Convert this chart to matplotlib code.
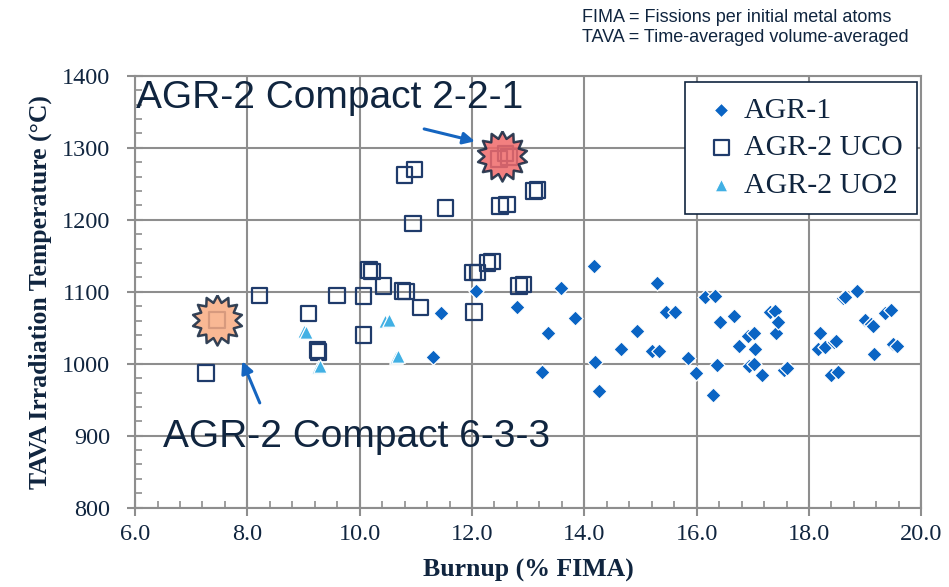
import numpy as np
import matplotlib
matplotlib.use("Agg")
import matplotlib.pyplot as plt
from matplotlib.ticker import MultipleLocator, FormatStrFormatter

# AGR-1 compacts
agr1_burnup = [11.31, 11.44, 12.07, 12.80, 13.24, 13.36, 13.59, 13.84, 14.18, 14.19,
               14.27, 14.65, 14.94, 15.20, 15.29, 15.33, 15.46, 15.62, 15.84, 15.98,
               16.14, 16.30, 16.32, 16.36, 16.41, 16.66, 16.76, 16.91, 16.94, 17.03,
               17.03, 17.04, 17.16, 17.30, 17.39, 17.42, 17.45, 17.55, 17.60, 18.16,
               18.19, 18.28, 18.40, 18.45, 18.49, 18.52, 18.60, 18.65, 18.86, 18.99,
               19.10, 19.14, 19.15, 19.36, 19.46, 19.50, 19.56]
agr1_temp = [1009, 1070, 1101, 1079, 989, 1042, 1105, 1064, 1136, 1002,
             962, 1020, 1045, 1018, 1112, 1018, 1072, 1072, 1008, 987,
             1092, 956, 1094, 998, 1058, 1066, 1025, 1038, 997, 1042,
             1000, 1020, 984, 1072, 1073, 1042, 1058, 991, 994, 1020,
             1042, 1023, 985, 1030, 1032, 988, 1091, 1093, 1101, 1061,
             1055, 1052, 1014, 1070, 1075, 1028, 1025]

# AGR-2 UCO compacts
uco_burnup = [7.26, 7.46, 8.22, 9.09, 9.25, 9.27, 9.60, 10.07, 10.07, 10.17,
              10.22, 10.42, 10.76, 10.82, 10.80, 10.98, 10.95, 11.08, 11.53, 12.02,
              12.10, 12.04, 12.28, 12.36, 12.50, 12.62, 12.84, 12.92, 13.10, 13.17,
              12.48, 12.60, 12.66]
uco_temp = [987, 1061, 1095, 1070, 1019, 1016, 1095, 1094, 1040, 1130,
            1128, 1108, 1101, 1100, 1262, 1270, 1195, 1078, 1216, 1127,
            1127, 1072, 1140, 1142, 1219, 1221, 1108, 1110, 1240, 1241,
            1284, 1292, 1287]

# AGR-2 UO2 compacts
uo2_burnup = [9.00, 9.05, 9.25, 9.29, 10.45, 10.52, 10.65, 10.68]
uo2_temp = [1045, 1044, 996, 997, 1060, 1061, 1010, 1011]

# highlighted compacts
hl_labels = ["AGR-2 Compact 2-2-1", "AGR-2 Compact 6-3-3"]
hl_burnup = [12.54, 7.46]
hl_temp = [1288, 1061]

NAVY = "#10253f"
GRID = "#8e8e8e"
SERIF = "Liberation Serif"
SANS = "Liberation Sans"


def burst(n=14, inner=0.72):
    ang = np.linspace(0, 2 * np.pi, 2 * n, endpoint=False) + np.pi / 2
    r = np.where(np.arange(2 * n) % 2 == 0, 1.0, inner)
    v = np.column_stack([r * np.cos(ang), r * np.sin(ang)])
    return np.vstack([v, v[:1]])


fig = plt.figure(figsize=(9.49, 5.87), dpi=100)
ax = fig.add_axes([0.1423, 0.1351, 0.8285, 0.7359])

ax.scatter(uco_burnup, uco_temp, marker="s", s=125, facecolor="none",
           edgecolor="#1f3b6b", linewidth=1.6, zorder=3, label="AGR-2 UCO")
ax.scatter(agr1_burnup, agr1_temp, marker="D", s=60, color="#0a64c4",
           edgecolor="white", linewidth=0.9, zorder=4, label="AGR-1")
ax.scatter(uo2_burnup, uo2_temp, marker="^", s=95, color="#41b0e4",
           edgecolor="white", linewidth=0.9, zorder=4, label="AGR-2 UO2")

star = burst()
ax.scatter(hl_burnup[:1], hl_temp[:1], marker=star, s=1300, facecolor="#f06a6a",
           edgecolor=NAVY, linewidth=1.8, alpha=0.85, zorder=5)
ax.scatter(hl_burnup[1:], hl_temp[1:], marker=star, s=1300, facecolor="#f8ac82",
           edgecolor=NAVY, linewidth=1.8, alpha=0.85, zorder=5)

# callouts
arrow = dict(arrowstyle="-|>,head_length=0.7,head_width=0.35",
             color="#1565c0", lw=2.2)
ax.text(6.02, 1369, hl_labels[0], family=SANS, fontsize=28, color=NAVY,
        va="center", ha="left", zorder=6)
ax.annotate("", xy=(12.10, 1308), xytext=(11.10, 1327), arrowprops=arrow, zorder=6)
ax.text(6.50, 898, hl_labels[1], family=SANS, fontsize=28, color=NAVY,
        va="center", ha="left", zorder=6)
ax.annotate("", xy=(7.89, 1007), xytext=(8.24, 942), arrowprops=arrow, zorder=6)

ax.set_xlim(6, 20)
ax.set_ylim(800, 1400)
ax.xaxis.set_major_locator(MultipleLocator(2))
ax.xaxis.set_minor_locator(MultipleLocator(0.4))
ax.yaxis.set_major_locator(MultipleLocator(100))
ax.yaxis.set_minor_locator(MultipleLocator(20))
ax.xaxis.set_major_formatter(FormatStrFormatter("%.1f"))
ax.grid(True, which="major", color=GRID, linewidth=1.5, zorder=0)
ax.set_axisbelow(True)
for s in ax.spines.values():
    s.set_color(GRID)
    s.set_linewidth(1.5)
ax.tick_params(which="major", direction="inout", length=12, width=1.5,
               color=GRID, labelsize=17.5, labelcolor=NAVY)
ax.tick_params(which="minor", direction="in", length=5, width=1.2, color=GRID)
ax.tick_params(axis="y", which="major", pad=12)
ax.tick_params(axis="x", which="major", pad=6)
for lab in ax.get_xticklabels() + ax.get_yticklabels():
    lab.set_family(SERIF)

ax.set_xlabel("Burnup (% FIMA)", family=SERIF, fontsize=18.5, fontweight="bold",
              color=NAVY, labelpad=10)
ax.set_ylabel("TAVA Irradiation Temperature (°C)", family=SERIF, fontsize=18.5,
              fontweight="bold", color=NAVY, labelpad=7)

handles, labels = ax.get_legend_handles_labels()
order = [1, 0, 2]
leg = ax.legend([handles[i] for i in order], [labels[i] for i in order],
                loc="upper right", bbox_to_anchor=(0.995, 0.985),
                prop=dict(family=SERIF, size=21.5), labelcolor=NAVY,
                frameon=True, fancybox=False, edgecolor=NAVY, framealpha=1,
                borderpad=0.5, labelspacing=0.35, handletextpad=0.05,
                handlelength=1.4, markerscale=0.95, borderaxespad=0)
leg.get_frame().set_linewidth(1.2)

fig.text(0.613, 0.971, "FIMA = Fissions per initial metal atoms", family=SANS,
         fontsize=13, color=NAVY, va="center", ha="left")
fig.text(0.613, 0.936, "TAVA = Time-averaged volume-averaged", family=SANS,
         fontsize=13, color=NAVY, va="center", ha="left")

fig.savefig("out.png", dpi=100)
